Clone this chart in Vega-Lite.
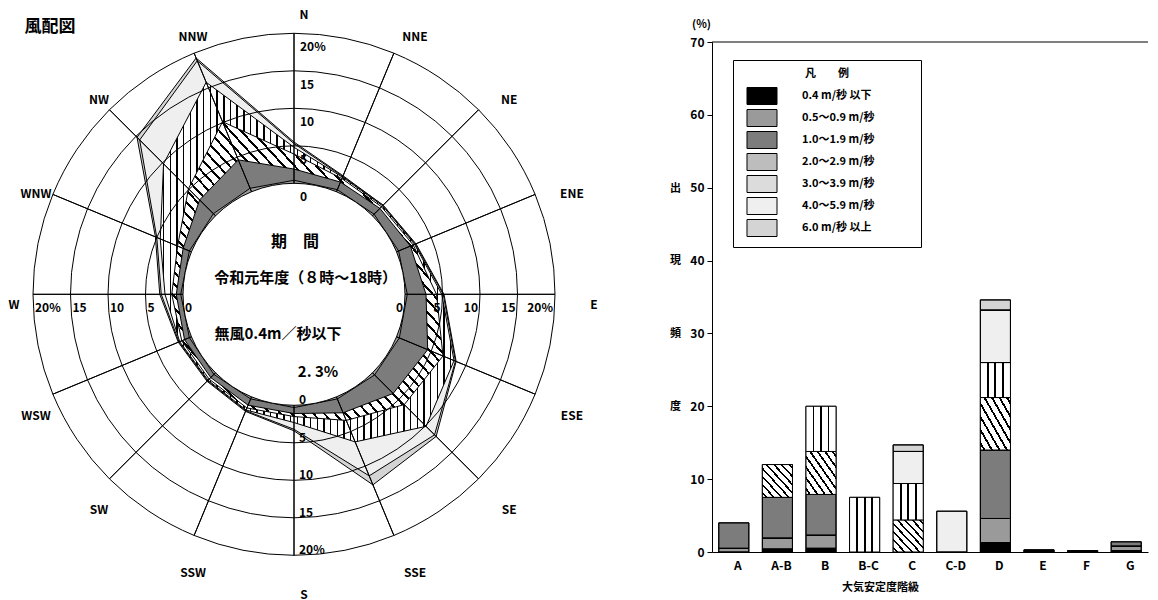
{
  "$schema": "https://vega.github.io/schema/vega-lite/v6.json",
  "background": "white",
  "padding": {"left": 8, "top": 9, "right": 0, "bottom": 0},
  "config": {
    "font": "Noto Sans CJK JP",
    "view": {"stroke": null},
    "text": {"font": "Noto Sans CJK JP", "fontWeight": "bold", "color": "black"},
    "axis": {"labelFont": "Noto Sans CJK JP", "titleFont": "Noto Sans CJK JP", "labelColor": "black", "titleColor": "black", "domainColor": "black", "tickColor": "black", "labelFontWeight": "bold", "titleFontWeight": "bold", "grid": false},
    "legend": {"labelFont": "Noto Sans CJK JP", "titleFont": "Noto Sans CJK JP", "labelColor": "black", "titleColor": "black"},
    "title": {"font": "Noto Sans CJK JP", "color": "black"}
  },
  "resolve": {"legend": {"fill": "independent"}, "scale": {"fill": "independent"}},
  "datasets": {
    "rose": [
      {"d": "N", "a": 0, "k1": 0.4, "k2": 1.5, "k3": 2.0, "k4": 0.9, "k5": 0.5, "k6": 0.2},
      {"d": "NNE", "a": 22.5, "k1": 0.3, "k2": 1.1, "k3": 0.5, "k4": 0.2, "k5": 0.1, "k6": 0.1},
      {"d": "NE", "a": 45, "k1": 0.3, "k2": 1.1, "k3": 0.3, "k4": 0.2, "k5": 0.1, "k6": 0.0},
      {"d": "ENE", "a": 67.5, "k1": 0.3, "k2": 1.7, "k3": 0.4, "k4": 0.2, "k5": 0.1, "k6": 0.1},
      {"d": "E", "a": 90, "k1": 0.3, "k2": 2.5, "k3": 1.4, "k4": 0.7, "k5": 0.2, "k6": 0.1},
      {"d": "ESE", "a": 112.5, "k1": 0.4, "k2": 4.1, "k3": 2.2, "k4": 1.6, "k5": 0.2, "k6": 0.1},
      {"d": "SE", "a": 135, "k1": 0.4, "k2": 3.5, "k3": 2.1, "k4": 4.1, "k5": 1.6, "k6": 0.3},
      {"d": "SSE", "a": 157.5, "k1": 0.3, "k2": 2.0, "k3": 1.1, "k4": 3.1, "k5": 4.9, "k6": 1.3},
      {"d": "S", "a": 180, "k1": 0.3, "k2": 0.8, "k3": 0.4, "k4": 0.8, "k5": 0.9, "k6": 0.2},
      {"d": "SSW", "a": 202.5, "k1": 0.3, "k2": 0.9, "k3": 0.4, "k4": 0.3, "k5": 0.1, "k6": 0.1},
      {"d": "SW", "a": 225, "k1": 0.3, "k2": 0.6, "k3": 0.3, "k4": 0.2, "k5": 0.1, "k6": 0.1},
      {"d": "WSW", "a": 247.5, "k1": 0.3, "k2": 0.7, "k3": 0.4, "k4": 0.3, "k5": 0.1, "k6": 0.1},
      {"d": "W", "a": 270, "k1": 0.3, "k2": 0.6, "k3": 0.6, "k4": 0.9, "k5": 0.5, "k6": 0.2},
      {"d": "WNW", "a": 292.5, "k1": 0.3, "k2": 0.9, "k3": 0.8, "k4": 2.5, "k5": 0.5, "k6": 0.2},
      {"d": "NW", "a": 315, "k1": 0.4, "k2": 2.6, "k3": 2.1, "k4": 4.7, "k5": 4.5, "k6": 0.5},
      {"d": "NNW", "a": 337.5, "k1": 0.5, "k2": 4.1, "k3": 5.5, "k4": 5.7, "k5": 3.1, "k6": 0.4}
    ],
    "rings": [
      {"v": 0, "t": "0"},
      {"v": 5, "t": "5"},
      {"v": 10, "t": "10"},
      {"v": 15, "t": "15"},
      {"v": 20, "t": "20%"}
    ],
    "bars": [
      {"c": "A", "w": "0.5～0.9 m/秒", "p": 0.5},
      {"c": "A", "w": "1.0～1.9 m/秒", "p": 3.5},
      {"c": "A-B", "w": "0.4 m/秒 以下", "p": 0.4},
      {"c": "A-B", "w": "0.5～0.9 m/秒", "p": 1.5},
      {"c": "A-B", "w": "1.0～1.9 m/秒", "p": 5.6},
      {"c": "A-B", "w": "2.0～2.9 m/秒", "p": 4.5},
      {"c": "B", "w": "0.4 m/秒 以下", "p": 0.5},
      {"c": "B", "w": "0.5～0.9 m/秒", "p": 1.8},
      {"c": "B", "w": "1.0～1.9 m/秒", "p": 5.6},
      {"c": "B", "w": "2.0～2.9 m/秒", "p": 5.9},
      {"c": "B", "w": "3.0～3.9 m/秒", "p": 6.2},
      {"c": "B-C", "w": "3.0～3.9 m/秒", "p": 7.5},
      {"c": "C", "w": "2.0～2.9 m/秒", "p": 4.4},
      {"c": "C", "w": "3.0～3.9 m/秒", "p": 5.0},
      {"c": "C", "w": "4.0～5.9 m/秒", "p": 4.4},
      {"c": "C", "w": "6.0 m/秒 以上", "p": 0.9},
      {"c": "C-D", "w": "4.0～5.9 m/秒", "p": 5.6},
      {"c": "D", "w": "0.4 m/秒 以下", "p": 1.3},
      {"c": "D", "w": "0.5～0.9 m/秒", "p": 3.3},
      {"c": "D", "w": "1.0～1.9 m/秒", "p": 9.4},
      {"c": "D", "w": "2.0～2.9 m/秒", "p": 7.2},
      {"c": "D", "w": "3.0～3.9 m/秒", "p": 4.8},
      {"c": "D", "w": "4.0～5.9 m/秒", "p": 7.2},
      {"c": "D", "w": "6.0 m/秒 以上", "p": 1.4},
      {"c": "E", "w": "0.4 m/秒 以下", "p": 0.3},
      {"c": "F", "w": "0.4 m/秒 以下", "p": 0.2},
      {"c": "G", "w": "0.4 m/秒 以下", "p": 0.2},
      {"c": "G", "w": "0.5～0.9 m/秒", "p": 0.6},
      {"c": "G", "w": "1.0～1.9 m/秒", "p": 0.6}
    ]
  },
  "spacing": 71,
  "hconcat": [
    {
      "width": 522,
      "height": 504.6,
      "layer": [
        {
          "data": {"name": "rose"},
          "transform": [
            {"fold": ["k1", "k2", "k3", "k4", "k5", "k6"], "as": ["k", "p"]},
            {"window": [{"op": "sum", "field": "p", "as": "cum"}], "groupby": ["d"], "sort": [{"field": "k"}], "frame": [null, 0]},
            {"calculate": "(datum.cum + 14.8) * sin(datum.a * PI / 180)", "as": "px"},
            {"calculate": "(datum.cum + 14.8) * cos(datum.a * PI / 180)", "as": "py"}
          ],
          "encoding": {
            "x": {"field": "px", "type": "quantitative", "scale": {"domain": [-34.8, 34.8], "nice": false, "zero": false}, "axis": null},
            "y": {"field": "py", "type": "quantitative", "scale": {"domain": [-33.64, 33.64], "nice": false, "zero": false}, "axis": null},
            "order": {"field": "a", "type": "quantitative"}
          },
          "layer": [
            {"transform": [{"filter": "datum.k === 'k6'"}], "mark": {"type": "line", "interpolate": "linear-closed", "fill": "#d4d4d4", "stroke": "black", "strokeWidth": 1}},
            {"transform": [{"filter": "datum.k === 'k5'"}], "mark": {"type": "line", "interpolate": "linear-closed", "fill": "#efefef", "stroke": "black", "strokeWidth": 1}},
            {"transform": [{"filter": "datum.k === 'k4'"}], "mark": {"type": "line", "interpolate": "linear-closed", "stroke": "black", "strokeWidth": 1,
              "fill": {"gradient": "linear", "x1": 0, "y1": 0, "x2": 1, "y2": 0, "stops": [
                {"offset": 0, "color": "#fff"},
                {"offset": 0.009, "color": "#fff"}, {"offset": 0.009, "color": "#000"}, {"offset": 0.014, "color": "#000"}, {"offset": 0.014, "color": "#fff"},
                {"offset": 0.032, "color": "#fff"}, {"offset": 0.032, "color": "#000"}, {"offset": 0.037, "color": "#000"}, {"offset": 0.037, "color": "#fff"},
                {"offset": 0.054, "color": "#fff"}, {"offset": 0.054, "color": "#000"}, {"offset": 0.059, "color": "#000"}, {"offset": 0.059, "color": "#fff"},
                {"offset": 0.077, "color": "#fff"}, {"offset": 0.077, "color": "#000"}, {"offset": 0.082, "color": "#000"}, {"offset": 0.082, "color": "#fff"},
                {"offset": 0.100, "color": "#fff"}, {"offset": 0.100, "color": "#000"}, {"offset": 0.105, "color": "#000"}, {"offset": 0.105, "color": "#fff"},
                {"offset": 0.123, "color": "#fff"}, {"offset": 0.123, "color": "#000"}, {"offset": 0.128, "color": "#000"}, {"offset": 0.128, "color": "#fff"},
                {"offset": 0.145, "color": "#fff"}, {"offset": 0.145, "color": "#000"}, {"offset": 0.150, "color": "#000"}, {"offset": 0.150, "color": "#fff"},
                {"offset": 0.168, "color": "#fff"}, {"offset": 0.168, "color": "#000"}, {"offset": 0.173, "color": "#000"}, {"offset": 0.173, "color": "#fff"},
                {"offset": 0.191, "color": "#fff"}, {"offset": 0.191, "color": "#000"}, {"offset": 0.196, "color": "#000"}, {"offset": 0.196, "color": "#fff"},
                {"offset": 0.214, "color": "#fff"}, {"offset": 0.214, "color": "#000"}, {"offset": 0.219, "color": "#000"}, {"offset": 0.219, "color": "#fff"},
                {"offset": 0.236, "color": "#fff"}, {"offset": 0.236, "color": "#000"}, {"offset": 0.241, "color": "#000"}, {"offset": 0.241, "color": "#fff"},
                {"offset": 0.259, "color": "#fff"}, {"offset": 0.259, "color": "#000"}, {"offset": 0.264, "color": "#000"}, {"offset": 0.264, "color": "#fff"},
                {"offset": 0.282, "color": "#fff"}, {"offset": 0.282, "color": "#000"}, {"offset": 0.287, "color": "#000"}, {"offset": 0.287, "color": "#fff"},
                {"offset": 0.305, "color": "#fff"}, {"offset": 0.305, "color": "#000"}, {"offset": 0.310, "color": "#000"}, {"offset": 0.310, "color": "#fff"},
                {"offset": 0.327, "color": "#fff"}, {"offset": 0.327, "color": "#000"}, {"offset": 0.332, "color": "#000"}, {"offset": 0.332, "color": "#fff"},
                {"offset": 0.350, "color": "#fff"}, {"offset": 0.350, "color": "#000"}, {"offset": 0.355, "color": "#000"}, {"offset": 0.355, "color": "#fff"},
                {"offset": 0.373, "color": "#fff"}, {"offset": 0.373, "color": "#000"}, {"offset": 0.378, "color": "#000"}, {"offset": 0.378, "color": "#fff"},
                {"offset": 0.395, "color": "#fff"}, {"offset": 0.395, "color": "#000"}, {"offset": 0.400, "color": "#000"}, {"offset": 0.400, "color": "#fff"},
                {"offset": 0.418, "color": "#fff"}, {"offset": 0.418, "color": "#000"}, {"offset": 0.423, "color": "#000"}, {"offset": 0.423, "color": "#fff"},
                {"offset": 0.441, "color": "#fff"}, {"offset": 0.441, "color": "#000"}, {"offset": 0.446, "color": "#000"}, {"offset": 0.446, "color": "#fff"},
                {"offset": 0.464, "color": "#fff"}, {"offset": 0.464, "color": "#000"}, {"offset": 0.469, "color": "#000"}, {"offset": 0.469, "color": "#fff"},
                {"offset": 0.486, "color": "#fff"}, {"offset": 0.486, "color": "#000"}, {"offset": 0.491, "color": "#000"}, {"offset": 0.491, "color": "#fff"},
                {"offset": 0.509, "color": "#fff"}, {"offset": 0.509, "color": "#000"}, {"offset": 0.514, "color": "#000"}, {"offset": 0.514, "color": "#fff"},
                {"offset": 0.532, "color": "#fff"}, {"offset": 0.532, "color": "#000"}, {"offset": 0.537, "color": "#000"}, {"offset": 0.537, "color": "#fff"},
                {"offset": 0.555, "color": "#fff"}, {"offset": 0.555, "color": "#000"}, {"offset": 0.560, "color": "#000"}, {"offset": 0.560, "color": "#fff"},
                {"offset": 0.577, "color": "#fff"}, {"offset": 0.577, "color": "#000"}, {"offset": 0.582, "color": "#000"}, {"offset": 0.582, "color": "#fff"},
                {"offset": 0.600, "color": "#fff"}, {"offset": 0.600, "color": "#000"}, {"offset": 0.605, "color": "#000"}, {"offset": 0.605, "color": "#fff"},
                {"offset": 0.623, "color": "#fff"}, {"offset": 0.623, "color": "#000"}, {"offset": 0.628, "color": "#000"}, {"offset": 0.628, "color": "#fff"},
                {"offset": 0.645, "color": "#fff"}, {"offset": 0.645, "color": "#000"}, {"offset": 0.650, "color": "#000"}, {"offset": 0.650, "color": "#fff"},
                {"offset": 0.668, "color": "#fff"}, {"offset": 0.668, "color": "#000"}, {"offset": 0.673, "color": "#000"}, {"offset": 0.673, "color": "#fff"},
                {"offset": 0.691, "color": "#fff"}, {"offset": 0.691, "color": "#000"}, {"offset": 0.696, "color": "#000"}, {"offset": 0.696, "color": "#fff"},
                {"offset": 0.714, "color": "#fff"}, {"offset": 0.714, "color": "#000"}, {"offset": 0.719, "color": "#000"}, {"offset": 0.719, "color": "#fff"},
                {"offset": 0.736, "color": "#fff"}, {"offset": 0.736, "color": "#000"}, {"offset": 0.741, "color": "#000"}, {"offset": 0.741, "color": "#fff"},
                {"offset": 0.759, "color": "#fff"}, {"offset": 0.759, "color": "#000"}, {"offset": 0.764, "color": "#000"}, {"offset": 0.764, "color": "#fff"},
                {"offset": 0.782, "color": "#fff"}, {"offset": 0.782, "color": "#000"}, {"offset": 0.787, "color": "#000"}, {"offset": 0.787, "color": "#fff"},
                {"offset": 0.805, "color": "#fff"}, {"offset": 0.805, "color": "#000"}, {"offset": 0.810, "color": "#000"}, {"offset": 0.810, "color": "#fff"},
                {"offset": 0.827, "color": "#fff"}, {"offset": 0.827, "color": "#000"}, {"offset": 0.832, "color": "#000"}, {"offset": 0.832, "color": "#fff"},
                {"offset": 0.850, "color": "#fff"}, {"offset": 0.850, "color": "#000"}, {"offset": 0.855, "color": "#000"}, {"offset": 0.855, "color": "#fff"},
                {"offset": 0.873, "color": "#fff"}, {"offset": 0.873, "color": "#000"}, {"offset": 0.878, "color": "#000"}, {"offset": 0.878, "color": "#fff"},
                {"offset": 0.895, "color": "#fff"}, {"offset": 0.895, "color": "#000"}, {"offset": 0.900, "color": "#000"}, {"offset": 0.900, "color": "#fff"},
                {"offset": 0.918, "color": "#fff"}, {"offset": 0.918, "color": "#000"}, {"offset": 0.923, "color": "#000"}, {"offset": 0.923, "color": "#fff"},
                {"offset": 0.941, "color": "#fff"}, {"offset": 0.941, "color": "#000"}, {"offset": 0.946, "color": "#000"}, {"offset": 0.946, "color": "#fff"},
                {"offset": 0.964, "color": "#fff"}, {"offset": 0.964, "color": "#000"}, {"offset": 0.969, "color": "#000"}, {"offset": 0.969, "color": "#fff"},
                {"offset": 0.986, "color": "#fff"}, {"offset": 0.986, "color": "#000"}, {"offset": 0.991, "color": "#000"}, {"offset": 0.991, "color": "#fff"},
                {"offset": 1, "color": "#fff"}
              ]}}},
            {"transform": [{"filter": "datum.k === 'k3'"}], "mark": {"type": "line", "interpolate": "linear-closed", "stroke": "black", "strokeWidth": 1,
              "fill": {"gradient": "linear", "x1": 0, "y1": 1, "x2": 1, "y2": 0, "stops": [
                {"offset": 0, "color": "#fff"},
                {"offset": 0.010, "color": "#fff"}, {"offset": 0.010, "color": "#000"}, {"offset": 0.015, "color": "#000"}, {"offset": 0.015, "color": "#fff"},
                {"offset": 0.030, "color": "#fff"}, {"offset": 0.030, "color": "#000"}, {"offset": 0.035, "color": "#000"}, {"offset": 0.035, "color": "#fff"},
                {"offset": 0.050, "color": "#fff"}, {"offset": 0.050, "color": "#000"}, {"offset": 0.055, "color": "#000"}, {"offset": 0.055, "color": "#fff"},
                {"offset": 0.070, "color": "#fff"}, {"offset": 0.070, "color": "#000"}, {"offset": 0.075, "color": "#000"}, {"offset": 0.075, "color": "#fff"},
                {"offset": 0.090, "color": "#fff"}, {"offset": 0.090, "color": "#000"}, {"offset": 0.095, "color": "#000"}, {"offset": 0.095, "color": "#fff"},
                {"offset": 0.110, "color": "#fff"}, {"offset": 0.110, "color": "#000"}, {"offset": 0.115, "color": "#000"}, {"offset": 0.115, "color": "#fff"},
                {"offset": 0.130, "color": "#fff"}, {"offset": 0.130, "color": "#000"}, {"offset": 0.135, "color": "#000"}, {"offset": 0.135, "color": "#fff"},
                {"offset": 0.150, "color": "#fff"}, {"offset": 0.150, "color": "#000"}, {"offset": 0.155, "color": "#000"}, {"offset": 0.155, "color": "#fff"},
                {"offset": 0.170, "color": "#fff"}, {"offset": 0.170, "color": "#000"}, {"offset": 0.175, "color": "#000"}, {"offset": 0.175, "color": "#fff"},
                {"offset": 0.190, "color": "#fff"}, {"offset": 0.190, "color": "#000"}, {"offset": 0.195, "color": "#000"}, {"offset": 0.195, "color": "#fff"},
                {"offset": 0.210, "color": "#fff"}, {"offset": 0.210, "color": "#000"}, {"offset": 0.215, "color": "#000"}, {"offset": 0.215, "color": "#fff"},
                {"offset": 0.230, "color": "#fff"}, {"offset": 0.230, "color": "#000"}, {"offset": 0.235, "color": "#000"}, {"offset": 0.235, "color": "#fff"},
                {"offset": 0.250, "color": "#fff"}, {"offset": 0.250, "color": "#000"}, {"offset": 0.255, "color": "#000"}, {"offset": 0.255, "color": "#fff"},
                {"offset": 0.270, "color": "#fff"}, {"offset": 0.270, "color": "#000"}, {"offset": 0.275, "color": "#000"}, {"offset": 0.275, "color": "#fff"},
                {"offset": 0.290, "color": "#fff"}, {"offset": 0.290, "color": "#000"}, {"offset": 0.295, "color": "#000"}, {"offset": 0.295, "color": "#fff"},
                {"offset": 0.310, "color": "#fff"}, {"offset": 0.310, "color": "#000"}, {"offset": 0.315, "color": "#000"}, {"offset": 0.315, "color": "#fff"},
                {"offset": 0.330, "color": "#fff"}, {"offset": 0.330, "color": "#000"}, {"offset": 0.335, "color": "#000"}, {"offset": 0.335, "color": "#fff"},
                {"offset": 0.350, "color": "#fff"}, {"offset": 0.350, "color": "#000"}, {"offset": 0.355, "color": "#000"}, {"offset": 0.355, "color": "#fff"},
                {"offset": 0.370, "color": "#fff"}, {"offset": 0.370, "color": "#000"}, {"offset": 0.375, "color": "#000"}, {"offset": 0.375, "color": "#fff"},
                {"offset": 0.390, "color": "#fff"}, {"offset": 0.390, "color": "#000"}, {"offset": 0.395, "color": "#000"}, {"offset": 0.395, "color": "#fff"},
                {"offset": 0.410, "color": "#fff"}, {"offset": 0.410, "color": "#000"}, {"offset": 0.415, "color": "#000"}, {"offset": 0.415, "color": "#fff"},
                {"offset": 0.430, "color": "#fff"}, {"offset": 0.430, "color": "#000"}, {"offset": 0.435, "color": "#000"}, {"offset": 0.435, "color": "#fff"},
                {"offset": 0.450, "color": "#fff"}, {"offset": 0.450, "color": "#000"}, {"offset": 0.455, "color": "#000"}, {"offset": 0.455, "color": "#fff"},
                {"offset": 0.470, "color": "#fff"}, {"offset": 0.470, "color": "#000"}, {"offset": 0.475, "color": "#000"}, {"offset": 0.475, "color": "#fff"},
                {"offset": 0.490, "color": "#fff"}, {"offset": 0.490, "color": "#000"}, {"offset": 0.495, "color": "#000"}, {"offset": 0.495, "color": "#fff"},
                {"offset": 0.510, "color": "#fff"}, {"offset": 0.510, "color": "#000"}, {"offset": 0.515, "color": "#000"}, {"offset": 0.515, "color": "#fff"},
                {"offset": 0.530, "color": "#fff"}, {"offset": 0.530, "color": "#000"}, {"offset": 0.535, "color": "#000"}, {"offset": 0.535, "color": "#fff"},
                {"offset": 0.550, "color": "#fff"}, {"offset": 0.550, "color": "#000"}, {"offset": 0.555, "color": "#000"}, {"offset": 0.555, "color": "#fff"},
                {"offset": 0.570, "color": "#fff"}, {"offset": 0.570, "color": "#000"}, {"offset": 0.575, "color": "#000"}, {"offset": 0.575, "color": "#fff"},
                {"offset": 0.590, "color": "#fff"}, {"offset": 0.590, "color": "#000"}, {"offset": 0.595, "color": "#000"}, {"offset": 0.595, "color": "#fff"},
                {"offset": 0.610, "color": "#fff"}, {"offset": 0.610, "color": "#000"}, {"offset": 0.615, "color": "#000"}, {"offset": 0.615, "color": "#fff"},
                {"offset": 0.630, "color": "#fff"}, {"offset": 0.630, "color": "#000"}, {"offset": 0.635, "color": "#000"}, {"offset": 0.635, "color": "#fff"},
                {"offset": 0.650, "color": "#fff"}, {"offset": 0.650, "color": "#000"}, {"offset": 0.655, "color": "#000"}, {"offset": 0.655, "color": "#fff"},
                {"offset": 0.670, "color": "#fff"}, {"offset": 0.670, "color": "#000"}, {"offset": 0.675, "color": "#000"}, {"offset": 0.675, "color": "#fff"},
                {"offset": 0.690, "color": "#fff"}, {"offset": 0.690, "color": "#000"}, {"offset": 0.695, "color": "#000"}, {"offset": 0.695, "color": "#fff"},
                {"offset": 0.710, "color": "#fff"}, {"offset": 0.710, "color": "#000"}, {"offset": 0.715, "color": "#000"}, {"offset": 0.715, "color": "#fff"},
                {"offset": 0.730, "color": "#fff"}, {"offset": 0.730, "color": "#000"}, {"offset": 0.735, "color": "#000"}, {"offset": 0.735, "color": "#fff"},
                {"offset": 0.750, "color": "#fff"}, {"offset": 0.750, "color": "#000"}, {"offset": 0.755, "color": "#000"}, {"offset": 0.755, "color": "#fff"},
                {"offset": 0.770, "color": "#fff"}, {"offset": 0.770, "color": "#000"}, {"offset": 0.775, "color": "#000"}, {"offset": 0.775, "color": "#fff"},
                {"offset": 0.790, "color": "#fff"}, {"offset": 0.790, "color": "#000"}, {"offset": 0.795, "color": "#000"}, {"offset": 0.795, "color": "#fff"},
                {"offset": 0.810, "color": "#fff"}, {"offset": 0.810, "color": "#000"}, {"offset": 0.815, "color": "#000"}, {"offset": 0.815, "color": "#fff"},
                {"offset": 0.830, "color": "#fff"}, {"offset": 0.830, "color": "#000"}, {"offset": 0.835, "color": "#000"}, {"offset": 0.835, "color": "#fff"},
                {"offset": 0.850, "color": "#fff"}, {"offset": 0.850, "color": "#000"}, {"offset": 0.855, "color": "#000"}, {"offset": 0.855, "color": "#fff"},
                {"offset": 0.870, "color": "#fff"}, {"offset": 0.870, "color": "#000"}, {"offset": 0.875, "color": "#000"}, {"offset": 0.875, "color": "#fff"},
                {"offset": 0.890, "color": "#fff"}, {"offset": 0.890, "color": "#000"}, {"offset": 0.895, "color": "#000"}, {"offset": 0.895, "color": "#fff"},
                {"offset": 0.910, "color": "#fff"}, {"offset": 0.910, "color": "#000"}, {"offset": 0.915, "color": "#000"}, {"offset": 0.915, "color": "#fff"},
                {"offset": 0.930, "color": "#fff"}, {"offset": 0.930, "color": "#000"}, {"offset": 0.935, "color": "#000"}, {"offset": 0.935, "color": "#fff"},
                {"offset": 0.950, "color": "#fff"}, {"offset": 0.950, "color": "#000"}, {"offset": 0.955, "color": "#000"}, {"offset": 0.955, "color": "#fff"},
                {"offset": 0.970, "color": "#fff"}, {"offset": 0.970, "color": "#000"}, {"offset": 0.975, "color": "#000"}, {"offset": 0.975, "color": "#fff"},
                {"offset": 0.990, "color": "#fff"}, {"offset": 0.990, "color": "#000"}, {"offset": 0.995, "color": "#000"}, {"offset": 0.995, "color": "#fff"},
                {"offset": 1, "color": "#fff"}
              ]}}},
            {"transform": [{"filter": "datum.k === 'k2'"}], "mark": {"type": "line", "interpolate": "linear-closed", "fill": "#7c7c7c", "stroke": "black", "strokeWidth": 1}},
            {"transform": [{"filter": "datum.k === 'k1'"}], "mark": {"type": "line", "interpolate": "linear-closed", "fill": "#9a9a9a", "stroke": "black", "strokeWidth": 1}}
          ]
        },
        {
          "data": {"values": [{}]},
          "mark": {"type": "arc", "fill": "white", "stroke": "black", "strokeWidth": 1},
          "encoding": {
            "theta": {"datum": 0, "type": "quantitative", "stack": null, "scale": {"type": "linear", "domain": [0, 360], "range": [0, 6.283185307179586], "zero": false, "nice": false}},
            "theta2": {"datum": 360},
            "radius": {"datum": 0, "type": "quantitative", "stack": null, "scale": {"type": "linear", "domain": [-14.8, 20], "range": [0, 261], "zero": false, "nice": false}},
            "radius2": {"datum": -14.8}
          }
        },
        {
          "data": {"name": "rings"},
          "transform": [{"filter": "datum.v > 0"}],
          "mark": {"type": "arc", "filled": false, "stroke": "black", "strokeWidth": 1},
          "encoding": {
            "theta": {"datum": 0, "type": "quantitative", "stack": null, "scale": {"type": "linear", "domain": [0, 360], "range": [0, 6.283185307179586], "zero": false, "nice": false}},
            "theta2": {"datum": 360},
            "radius": {"field": "v", "type": "quantitative", "stack": null, "scale": {"type": "linear", "domain": [-14.8, 20], "range": [0, 261], "zero": false, "nice": false}},
            "radius2": {"datum": -14.8}
          }
        },
        {
          "data": {"name": "rose"},
          "mark": {"type": "arc", "filled": false, "stroke": "black", "strokeWidth": 1},
          "encoding": {
            "theta": {"field": "a", "type": "quantitative", "stack": null, "scale": {"type": "linear", "domain": [0, 360], "range": [0, 6.283185307179586], "zero": false, "nice": false}},
            "theta2": {"field": "a"},
            "radius": {"datum": 20, "type": "quantitative", "stack": null, "scale": {"type": "linear", "domain": [-14.8, 20], "range": [0, 261], "zero": false, "nice": false}},
            "radius2": {"datum": 0}
          }
        },
        {
          "data": {"name": "rose"},
          "mark": {"type": "text", "fontSize": 12, "fontWeight": "bold", "dx": 10, "dy": 11, "align": "center", "baseline": "middle"},
          "encoding": {
            "theta": {"field": "a", "type": "quantitative", "stack": null, "scale": {"type": "linear", "domain": [0, 360], "range": [0, 6.283185307179586], "zero": false, "nice": false}},
            "radius": {"datum": 23.87, "type": "quantitative", "stack": null, "scale": {"type": "linear", "domain": [-14.8, 20], "range": [0, 261], "zero": false, "nice": false}},
            "text": {"field": "d"}
          }
        },
        {
          "data": {"name": "rings"},
          "mark": {"type": "text", "fontSize": 12, "align": "left", "baseline": "middle", "dx": 6, "dy": 14},
          "encoding": {
            "theta": {"datum": 0, "type": "quantitative", "stack": null, "scale": {"type": "linear", "domain": [0, 360], "range": [0, 6.283185307179586], "zero": false, "nice": false}},
            "radius": {"field": "v", "type": "quantitative", "stack": null, "scale": {"type": "linear", "domain": [-14.8, 20], "range": [0, 261], "zero": false, "nice": false}},
            "text": {"field": "t"}
          }
        },
        {
          "data": {"name": "rings"},
          "mark": {"type": "text", "fontSize": 12, "align": "right", "baseline": "middle", "dx": -2, "dy": 14},
          "encoding": {
            "theta": {"datum": 90, "type": "quantitative", "stack": null, "scale": {"type": "linear", "domain": [0, 360], "range": [0, 6.283185307179586], "zero": false, "nice": false}},
            "radius": {"field": "v", "type": "quantitative", "stack": null, "scale": {"type": "linear", "domain": [-14.8, 20], "range": [0, 261], "zero": false, "nice": false}},
            "text": {"field": "t"}
          }
        },
        {
          "data": {"name": "rings"},
          "mark": {"type": "text", "fontSize": 12, "align": "left", "baseline": "middle", "dx": 5, "dy": -5},
          "encoding": {
            "theta": {"datum": 180, "type": "quantitative", "stack": null, "scale": {"type": "linear", "domain": [0, 360], "range": [0, 6.283185307179586], "zero": false, "nice": false}},
            "radius": {"field": "v", "type": "quantitative", "stack": null, "scale": {"type": "linear", "domain": [-14.8, 20], "range": [0, 261], "zero": false, "nice": false}},
            "text": {"field": "t"}
          }
        },
        {
          "data": {"name": "rings"},
          "mark": {"type": "text", "fontSize": 12, "align": "left", "baseline": "middle", "dx": 2, "dy": 14},
          "encoding": {
            "theta": {"datum": 270, "type": "quantitative", "stack": null, "scale": {"type": "linear", "domain": [0, 360], "range": [0, 6.283185307179586], "zero": false, "nice": false}},
            "radius": {"field": "v", "type": "quantitative", "stack": null, "scale": {"type": "linear", "domain": [-14.8, 20], "range": [0, 261], "zero": false, "nice": false}},
            "text": {"field": "t"}
          }
        },
        {
          "data": {"values": [{}]},
          "mark": {"type": "text", "fontSize": 17, "align": "center", "baseline": "middle", "text": "風配図"},
          "encoding": {
            "x": {"datum": -32.53, "type": "quantitative", "scale": {"domain": [-34.8, 34.8], "nice": false, "zero": false}},
            "y": {"datum": 35.6, "type": "quantitative", "scale": {"domain": [-33.64, 33.64], "nice": false, "zero": false}}
          }
        },
        {
          "data": {"values": [{}]},
          "mark": {"type": "text", "fontSize": 16, "align": "center", "baseline": "middle", "text": "期　間"},
          "encoding": {
            "x": {"datum": 0.13, "type": "quantitative", "scale": {"domain": [-34.8, 34.8], "nice": false, "zero": false}},
            "y": {"datum": 6.93, "type": "quantitative", "scale": {"domain": [-33.64, 33.64], "nice": false, "zero": false}}
          }
        },
        {
          "data": {"values": [{}]},
          "mark": {"type": "text", "fontSize": 15, "align": "center", "baseline": "middle", "text": "令和元年度（８時～18時）"},
          "encoding": {
            "x": {"datum": 1.56, "type": "quantitative", "scale": {"domain": [-34.8, 34.8], "nice": false, "zero": false}},
            "y": {"datum": 2.13, "type": "quantitative", "scale": {"domain": [-33.64, 33.64], "nice": false, "zero": false}}
          }
        },
        {
          "data": {"values": [{}]},
          "mark": {"type": "text", "fontSize": 15, "align": "center", "baseline": "middle", "text": "無風0.4m／秒以下"},
          "encoding": {
            "x": {"datum": -2.13, "type": "quantitative", "scale": {"domain": [-34.8, 34.8], "nice": false, "zero": false}},
            "y": {"datum": -5.33, "type": "quantitative", "scale": {"domain": [-33.64, 33.64], "nice": false, "zero": false}}
          }
        },
        {
          "data": {"values": [{}]},
          "mark": {"type": "text", "fontSize": 15, "align": "center", "baseline": "middle", "text": "2. 3%"},
          "encoding": {
            "x": {"datum": 3.2, "type": "quantitative", "scale": {"domain": [-34.8, 34.8], "nice": false, "zero": false}},
            "y": {"datum": -10.36, "type": "quantitative", "scale": {"domain": [-33.64, 33.64], "nice": false, "zero": false}}
          }
        }
      ]
    },
    {
      "width": 436,
      "height": 510,
      "title": {"text": "(%)", "anchor": "start", "frame": "group", "fontSize": 11, "fontWeight": "bold", "dx": -20, "offset": 6},
      "layer": [
        {
          "data": {"name": "bars"},
          "mark": {"type": "bar", "stroke": "black", "strokeWidth": 1},
          "encoding": {
            "x": {
              "field": "c", "type": "nominal",
              "sort": ["A", "A-B", "B", "B-C", "C", "C-D", "D", "E", "F", "G"],
              "scale": {"paddingInner": 0.31, "paddingOuter": 0.155},
              "axis": {"title": "大気安定度階級", "labelAngle": 0, "labelFontSize": 12, "ticks": false, "labelPadding": 8, "labelOffset": 4, "titleFontSize": 11, "titleX": 168, "titleY": 35, "titleAlign": "center", "titleBaseline": "middle"}
            },
            "y": {
              "field": "p", "type": "quantitative", "stack": "zero",
              "scale": {"domain": [0, 70], "nice": false},
              "axis": {"values": [0, 10, 20, 30, 40, 50, 60, 70], "tickSize": 5, "labelFontSize": 12, "labelPadding": 3, "title": ["出", "現", "頻", "度"], "titleAngle": 0, "titleX": -37, "titleY": 146, "titleAlign": "center", "titleBaseline": "middle", "titleLineHeight": 72.9, "titleFontSize": 11}
            },
            "fill": {
              "field": "w", "type": "nominal",
              "scale": {
                "domain": ["0.4 m/秒 以下", "0.5～0.9 m/秒", "1.0～1.9 m/秒", "2.0～2.9 m/秒", "3.0～3.9 m/秒", "4.0～5.9 m/秒", "6.0 m/秒 以上"],
                "range": ["#000000", "#9a9a9a", "#7c7c7c", "#bdbdbd", "#dcdcdc", "#efefef", "#d4d4d4"]
              },
              "legend": {
                "title": "\u2800\u2800\u2800\u2800\u2800\u2800\u2800\u2800凡　　例\u2800\u2800\u2800\u2800\u2800\u2800\u2800\u2800",
                "orient": "none", "legendX": 21, "legendY": 18,
                "titleFontSize": 11, "titleFontWeight": "bold", "titlePadding": 8, "titleLimit": 400,
                "labelFontSize": 11, "labelFontWeight": "bold",
                "symbolType": "M-1.765,-1H1.765V1H-1.765Z", "symbolSize": 289,
                "symbolStrokeColor": "black", "symbolStrokeWidth": 1,
                "strokeColor": "black", "fillColor": "white",
                "padding": 8, "rowPadding": 0, "symbolOffset": 12, "labelOffset": 31
              }
            },
            "order": {"field": "w", "type": "ordinal"}
          }
        },
        {
          "data": {"name": "bars"},
          "mark": {"type": "bar", "stroke": "black", "strokeWidth": 1},
          "encoding": {
            "x": {"field": "c", "type": "nominal", "sort": ["A", "A-B", "B", "B-C", "C", "C-D", "D", "E", "F", "G"]},
            "y": {"field": "p", "type": "quantitative", "stack": "zero"},
            "order": {"field": "w", "type": "ordinal"},
            "fill": {
              "condition": [
                {"test": "datum.w === '3.0～3.9 m/秒'", "value": {"gradient": "linear", "x1": 0, "y1": 0, "x2": 1, "y2": 0, "stops": [
                  {"offset": 0, "color": "#fff"},
                  {"offset": 0.22, "color": "#fff"}, {"offset": 0.22, "color": "#000"}, {"offset": 0.28, "color": "#000"}, {"offset": 0.28, "color": "#fff"},
                  {"offset": 0.47, "color": "#fff"}, {"offset": 0.47, "color": "#000"}, {"offset": 0.53, "color": "#000"}, {"offset": 0.53, "color": "#fff"},
                  {"offset": 0.72, "color": "#fff"}, {"offset": 0.72, "color": "#000"}, {"offset": 0.78, "color": "#000"}, {"offset": 0.78, "color": "#fff"},
                  {"offset": 1, "color": "#fff"}
                ]}},
                {"test": "datum.w === '2.0～2.9 m/秒'", "value": {"gradient": "linear", "x1": 0, "y1": 1, "x2": 1, "y2": 0, "stops": [
                  {"offset": 0, "color": "#fff"},
                  {"offset": 0.050, "color": "#fff"}, {"offset": 0.050, "color": "#000"}, {"offset": 0.085, "color": "#000"}, {"offset": 0.085, "color": "#fff"},
                  {"offset": 0.175, "color": "#fff"}, {"offset": 0.175, "color": "#000"}, {"offset": 0.210, "color": "#000"}, {"offset": 0.210, "color": "#fff"},
                  {"offset": 0.300, "color": "#fff"}, {"offset": 0.300, "color": "#000"}, {"offset": 0.335, "color": "#000"}, {"offset": 0.335, "color": "#fff"},
                  {"offset": 0.425, "color": "#fff"}, {"offset": 0.425, "color": "#000"}, {"offset": 0.460, "color": "#000"}, {"offset": 0.460, "color": "#fff"},
                  {"offset": 0.550, "color": "#fff"}, {"offset": 0.550, "color": "#000"}, {"offset": 0.585, "color": "#000"}, {"offset": 0.585, "color": "#fff"},
                  {"offset": 0.675, "color": "#fff"}, {"offset": 0.675, "color": "#000"}, {"offset": 0.710, "color": "#000"}, {"offset": 0.710, "color": "#fff"},
                  {"offset": 0.800, "color": "#fff"}, {"offset": 0.800, "color": "#000"}, {"offset": 0.835, "color": "#000"}, {"offset": 0.835, "color": "#fff"},
                  {"offset": 0.925, "color": "#fff"}, {"offset": 0.925, "color": "#000"}, {"offset": 0.960, "color": "#000"}, {"offset": 0.960, "color": "#fff"},
                  {"offset": 1, "color": "#fff"}
                ]}}
              ],
              "value": "transparent"
            }
          }
        },
        {
          "data": {"values": [{}]},
          "mark": {"type": "rule", "color": "black", "strokeWidth": 1},
          "encoding": {"y": {"datum": 70, "type": "quantitative"}}
        }
      ]
    }
  ]
}
